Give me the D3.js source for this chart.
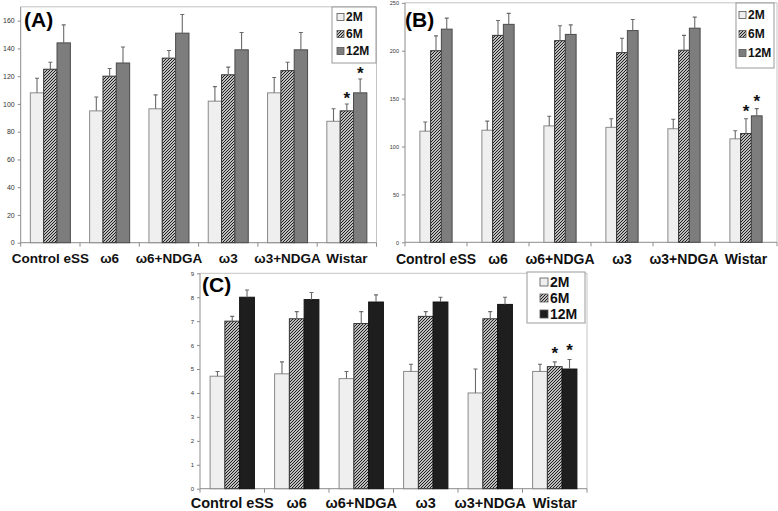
<!DOCTYPE html>
<html>
<head>
<meta charset="utf-8">
<script src="https://cdn.jsdelivr.net/npm/d3@7"></script>
<style>
  html, body { margin: 0; padding: 0; background: #fff; }
  svg { display: block; }
  text { font-family: "Liberation Sans", Arial, Helvetica, sans-serif; }
</style>
</head>
<body>
<svg id="chart" width="778" height="511"></svg>
<script>
// ---------- data ----------
const categories = ["Control eSS", "ω6", "ω6+NDGA", "ω3", "ω3+NDGA", "Wistar"];
const seriesNames = ["2M", "6M", "12M"];

// Panel A
const aTicks = [0, 20, 40, 60, 80, 100, 120, 140, 160];
const a2M = [108, 95, 96.5, 102, 108, 87.5];
const a2MErr = [10.5, 10, 10, 10.5, 11, 9];
const a6M = [125, 120, 133, 121, 124, 95];
const a6MErr = [5, 5.5, 5.5, 5.5, 6, 5];
const a12M = [144, 129.5, 151, 139, 139, 108];
const a12MErr = [13, 11.5, 13.5, 12.5, 12.5, 10];

// Panel B
const bTicks = [0, 50, 100, 150, 200, 250];
const b2M = [116, 117, 121.5, 120, 118.5, 108];
const b2MErr = [9.5, 9.5, 10, 9, 10, 8.5];
const b6M = [200, 216, 210.5, 198, 200.5, 113.5];
const b6MErr = [15.5, 15.5, 15.5, 15, 15.5, 15.5];
const b12M = [222.5, 227.5, 217, 221, 223.5, 132];
const b12MErr = [11.5, 11.5, 10, 11.5, 11.5, 7.5];

// Panel C
const cTicks = [0, 1, 2, 3, 4, 5, 6, 7, 8, 9];
const c2M = [4.7, 4.8, 4.6, 4.9, 4.0, 4.9];
const c2MErr = [0.2, 0.5, 0.3, 0.3, 1.0, 0.3];
const c6M = [7.0, 7.1, 6.9, 7.2, 7.1, 5.1];
const c6MErr = [0.2, 0.3, 0.5, 0.2, 0.3, 0.2];
const c12M = [8.0, 7.9, 7.8, 7.8, 7.7, 5.0];
const c12MErr = [0.3, 0.3, 0.3, 0.2, 0.3, 0.4];

// significance marks: [category, series]
const starsMarks = [["Wistar", "6M"], ["Wistar", "12M"]];

// ---------- drawing ----------
const svg = d3.select("#chart");
const defs = svg.append("defs");
const pat = defs.append("pattern")
  .attr("id", "hatch").attr("patternUnits", "userSpaceOnUse")
  .attr("width", 3).attr("height", 3);
pat.append("rect").attr("width", 3).attr("height", 3).attr("fill", "#fff");
pat.append("path").attr("d", "M-1,1 L1,-1 M0,3 L3,0 M2,4 L4,2")
  .attr("stroke", "#111").attr("stroke-width", 1.05);

function drawPanel(cfg) {
  const g = svg.append("g");
  const x = d3.scaleBand().domain(categories).range([cfg.x0, cfg.x1])
    .paddingInner(cfg.pad).paddingOuter(cfg.pad / 2);
  const xs = d3.scaleBand().domain(seriesNames).range([0, x.bandwidth()]);
  const y = d3.scaleLinear().domain(cfg.domain).range([cfg.yBase, cfg.yTop]);

  // frame (top/right)
  g.append("path")
    .attr("d", `M${cfg.x0},${cfg.yTop} H${cfg.x1} V${cfg.yBase}`)
    .attr("fill", "none").attr("stroke", "#c4c4c4").attr("stroke-width", 1);

  // y axis
  const yAxis = d3.axisLeft(y).tickValues(cfg.ticks).tickSize(3).tickPadding(3);
  const ya = g.append("g").attr("transform", `translate(${cfg.x0},0)`).call(yAxis);
  ya.select(".domain").attr("stroke", "#8c8c8c").attr("d", `M0,${cfg.yTop}V${cfg.yBase}`);
  ya.selectAll(".tick line").attr("stroke", "#8c8c8c");
  ya.selectAll(".tick text").attr("font-size", cfg.tickFs).attr("fill", "#333")
    .attr("font-family", "'Liberation Sans', Arial, sans-serif");

  // x axis line and boundary ticks
  const bounds = d3.range(categories.length + 1).map(i => cfg.x0 + i * (cfg.x1 - cfg.x0) / categories.length);
  g.append("line").attr("x1", cfg.x0).attr("x2", cfg.x1)
    .attr("y1", cfg.yBase).attr("y2", cfg.yBase).attr("stroke", "#8c8c8c");
  g.selectAll(".xt").data(bounds).enter().append("line")
    .attr("x1", d => d).attr("x2", d => d)
    .attr("y1", cfg.yBase).attr("y2", cfg.yBase + 4).attr("stroke", "#8c8c8c");

  // category labels
  g.selectAll(".cl").data(categories).enter().append("text")
    .attr("x", d => x(d) + x.bandwidth() / 2).attr("y", cfg.labelY)
    .attr("text-anchor", "middle").attr("font-weight", "bold")
    .attr("font-size", cfg.labelFs).attr("fill", "#111").text(d => d);

  // bars
  const styles = {
    "2M": { fill: "#efefef", stroke: "#8a8a8a" },
    "6M": { fill: "url(#hatch)", stroke: "#333" },
    "12M": { fill: cfg.darkFill, stroke: cfg.darkStroke }
  };
  seriesNames.forEach(s => {
    const vals = cfg.values[s], errs = cfg.errors[s];
    const data = categories.map((c, i) => ({ c, v: vals[i], e: errs[i] }));
    g.selectAll(".bar" + s).data(data).enter().append("rect")
      .attr("x", d => x(d.c) + xs(s)).attr("width", xs.bandwidth())
      .attr("y", d => y(d.v)).attr("height", d => y(0) - y(d.v))
      .attr("fill", styles[s].fill).attr("stroke", styles[s].stroke).attr("stroke-width", 1);
    // error bars (upper only)
    g.selectAll(".err" + s).data(data).enter().append("path")
      .attr("d", d => {
        const cx = x(d.c) + xs(s) + xs.bandwidth() / 2;
        const yt = y(d.v + d.e);
        return `M${cx},${y(d.v)}V${yt}M${cx - 2},${yt}H${cx + 2}`;
      })
      .attr("fill", "none").attr("stroke", "#6a6a6a").attr("stroke-width", 1.1);
  });

  // stars
  starsMarks.forEach(([c, s]) => {
    const i = categories.indexOf(c);
    const v = cfg.values[s][i] + cfg.errors[s][i];
    g.append("text")
      .attr("x", x(c) + xs(s) + xs.bandwidth() / 2)
      .attr("y", y(v) + cfg.starDy)
      .attr("text-anchor", "middle").attr("font-weight", "bold")
      .attr("font-size", 17).attr("fill", "#111").text("*");
  });

  // panel label
  g.append("text").attr("x", cfg.panelX).attr("y", cfg.panelY)
    .attr("font-weight", "bold").attr("font-size", cfg.panelFs)
    .attr("fill", "#000").text(cfg.name);

  // legend
  const L = cfg.legend;
  g.append("rect").attr("x", L.x).attr("y", L.y).attr("width", L.w).attr("height", L.h)
    .attr("fill", "#fff").attr("stroke", "#9a9a9a").attr("stroke-width", 1);
  seriesNames.forEach((s, i) => {
    const cy = L.y + L.first + i * L.gap;
    g.append("rect").attr("x", L.x + L.sx).attr("y", cy - L.sq / 2)
      .attr("width", L.sq).attr("height", L.sq)
      .attr("fill", styles[s].fill).attr("stroke", "#555").attr("stroke-width", 0.8);
    g.append("text").attr("x", L.x + L.sx + L.sq + 2).attr("y", cy)
      .attr("dy", "0.36em").attr("font-weight", "bold").attr("font-size", L.fs)
      .attr("fill", "#111").text(s);
  });
}

drawPanel({
  name: "(A)", x0: 20.7, x1: 376.5, yBase: 242.7, yTop: 6.8, domain: [0, 170],
  ticks: aTicks, pad: 0.325, tickFs: 7, labelY: 262.5, labelFs: 13.5,
  darkFill: "#7d7d7d", darkStroke: "#4a4a4a", starDy: 0,
  values: { "2M": a2M, "6M": a6M, "12M": a12M },
  errors: { "2M": a2MErr, "6M": a6MErr, "12M": a12MErr },
  panelX: 24, panelY: 27, panelFs: 21,
  legend: { x: 332, y: 7, w: 44, h: 56, first: 10, gap: 17, sx: 5, sq: 7, fs: 12 }
});

drawPanel({
  name: "(B)", x0: 405, x1: 777, yBase: 242.3, yTop: 2.8, domain: [0, 250],
  ticks: bTicks, pad: 0.48, tickFs: 5.5, labelY: 264, labelFs: 14,
  darkFill: "#7d7d7d", darkStroke: "#4a4a4a", starDy: -2,
  values: { "2M": b2M, "6M": b6M, "12M": b12M },
  errors: { "2M": b2MErr, "6M": b6MErr, "12M": b12MErr },
  panelX: 405, panelY: 27, panelFs: 21,
  legend: { x: 736, y: 3, w: 38, h: 65, first: 12, gap: 19, sx: 3, sq: 7, fs: 12 }
});

drawPanel({
  name: "(C)", x0: 200, x1: 587, yBase: 488.7, yTop: 273.3, domain: [0, 9],
  ticks: cTicks, pad: 0.313, tickFs: 6, labelY: 507.5, labelFs: 14.5,
  darkFill: "#1e1e1e", darkStroke: "#111", starDy: -3,
  values: { "2M": c2M, "6M": c6M, "12M": c12M },
  errors: { "2M": c2MErr, "6M": c6MErr, "12M": c12MErr },
  panelX: 202, panelY: 292, panelFs: 21,
  legend: { x: 527, y: 272, w: 58, h: 51, first: 10, gap: 16, sx: 13, sq: 8, fs: 14 }
});
</script>
</body>
</html>
